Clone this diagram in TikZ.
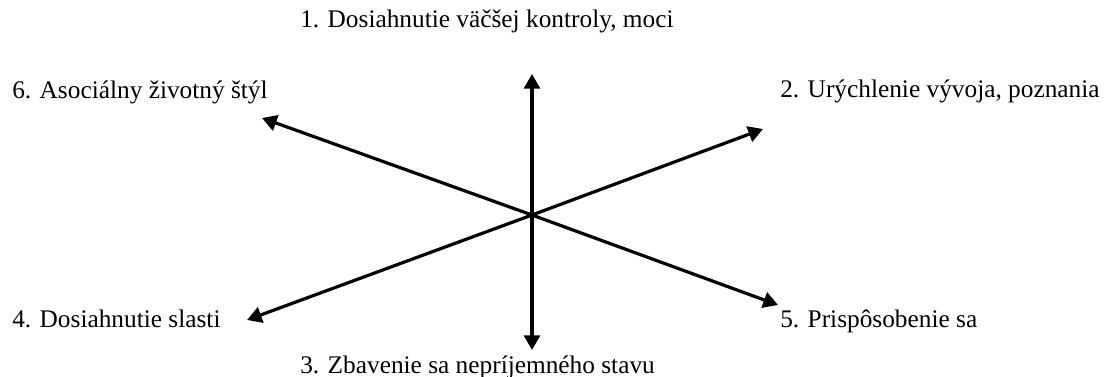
\documentclass[tikz,border=0pt]{standalone}
\usepackage{fontspec}
\setmainfont{Liberation Serif}
\usetikzlibrary{arrows.meta}

\begin{document}
\begin{tikzpicture}[
    x=0.75pt, y=-0.75pt,
    goal/.style={anchor=base west, inner sep=0pt, font=\fontsize{19}{22}\selectfont},
    axis/.style={{Triangle[length=11pt,width=12pt]}-{Triangle[length=11pt,width=12pt]}, line width=2.4pt}
  ]
    \useasboundingbox (0,0) rectangle (1117,376);

    \coordinate (mid) at (532,215);
    \coordinate (tip1) at (532,74);
    \coordinate (tip3) at (532,350);
    \coordinate (tip6) at (262,118);
    \coordinate (tip5) at (778,305);
    \coordinate (tip2) at (763,129);
    \coordinate (tip4) at (247,320);

    \node[goal] (g1) at (300,27) {1. Dosiahnutie väčšej kontroly, moci};
    \node[goal] (g2) at (780,97) {2. Urýchlenie vývoja, poznania};
    \node[goal] (g3) at (300,373) {3. Zbavenie sa nepríjemného stavu};
    \node[goal] (g4) at (12,327) {4. Dosiahnutie slasti};
    \node[goal] (g5) at (780,327) {5. Prispôsobenie sa};
    \node[goal] (g6) at (12,98) {6. Asociálny životný štýl};

    \draw[axis] (tip1) -- (mid) -- (tip3);
    \draw[axis] (tip6) -- (mid) -- (tip5);
    \draw[axis] (tip4) -- (mid) -- (tip2);
\end{tikzpicture}
\end{document}
